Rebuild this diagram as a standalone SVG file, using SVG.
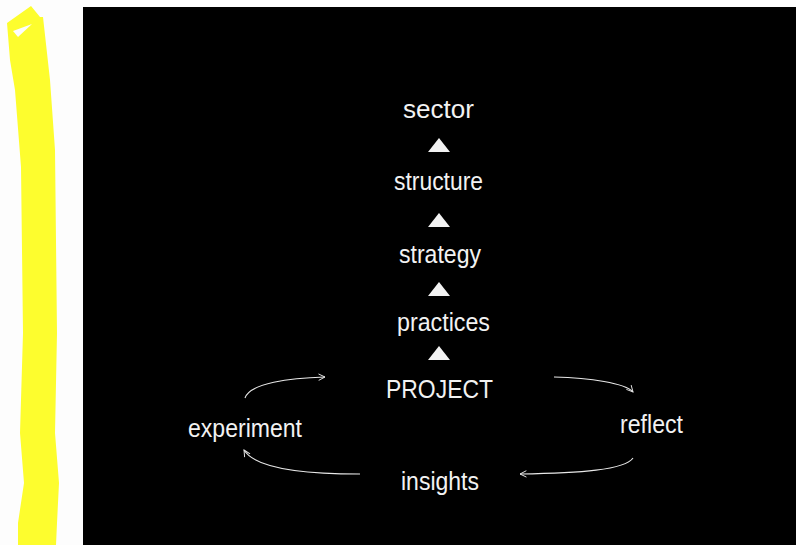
<svg xmlns="http://www.w3.org/2000/svg" width="796" height="545" viewBox="0 0 796 545">
<style>
.t{font-family:"Liberation Sans",Arial,sans-serif;fill:#f2f2f2;font-size:25px}
.c{fill:none;stroke:#e8e8e8;stroke-width:1.1}
.tri{fill:#f2f2f2}
</style>
<defs>
<marker id="ah" viewBox="0 0 10 10" refX="9" refY="5" markerWidth="8" markerHeight="8" markerUnits="userSpaceOnUse" orient="auto">
<path d="M1,1 L9,5 L1,9" fill="none" stroke="#e8e8e8" stroke-width="1.2"/>
</marker>
</defs>
<rect width="796" height="545" fill="#fdfdfd"/>
<g id="highlight">
<path d="M7,23 L31,6 L40,17 L43,17 L50,80 L55,150 L57,333 L55,433 L59,483 L57,523 L56,545 L18,545 L18,523 L24,483 L20,433 L23,333 L21,167 L15,90 L10,60 Z" fill="#fdfd2e"/>
<path d="M13,31 L32,24 L18,37 Z" fill="#fdfdfd"/>
</g>
<rect x="83" y="7" width="713" height="538" fill="#000"/>
<g id="sector"><text class="t" x="403" y="118" font-size="29" textLength="71" lengthAdjust="spacingAndGlyphs">sector</text></g>
<g id="structure"><text class="t" x="394" y="190" textLength="89" lengthAdjust="spacingAndGlyphs">structure</text></g>
<g id="strategy"><text class="t" x="399" y="263" textLength="82" lengthAdjust="spacingAndGlyphs">strategy</text></g>
<g id="practices"><text class="t" x="397" y="331" textLength="93" lengthAdjust="spacingAndGlyphs">practices</text></g>
<g id="project"><text class="t" x="386" y="398" font-size="26.5" textLength="107" lengthAdjust="spacingAndGlyphs">PROJECT</text></g>
<g id="experiment"><text class="t" x="188" y="437" textLength="114" lengthAdjust="spacingAndGlyphs">experiment</text></g>
<g id="reflect"><text class="t" x="620" y="433" textLength="63" lengthAdjust="spacingAndGlyphs">reflect</text></g>
<g id="insights"><text class="t" x="401" y="490" textLength="78" lengthAdjust="spacingAndGlyphs">insights</text></g>
<g id="connectors">
<polygon class="tri" points="428,152 450,152 439,138"/>
<polygon class="tri" points="428,227 450,227 439,213"/>
<polygon class="tri" points="428,296 450,296 439,282"/>
<polygon class="tri" points="428,360 450,360 439,346"/>
<path class="c" d="M245,398 C250,383 290,378 325,377" marker-end="url(#ah)"/>
<path class="c" d="M554,377 C590,378 625,383 633,392" marker-end="url(#ah)"/>
<path class="c" d="M633,458 C625,470 580,473 520,474" marker-end="url(#ah)"/>
<path class="c" d="M360,474 C300,474 255,468 244,450" marker-end="url(#ah)"/>
</g>
</svg>
